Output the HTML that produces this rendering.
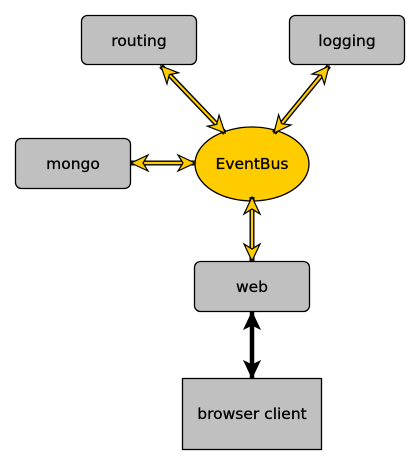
<!DOCTYPE html>
<html><head><meta charset="utf-8"><style>
html,body{margin:0;padding:0;background:#fff;width:420px;height:466px;overflow:hidden}
text{font-family:"DejaVu Sans","Liberation Sans",sans-serif;font-size:15.5px;fill:#000;stroke:#000;stroke-width:0.3}
</style></head><body>
<svg width="420" height="466" viewBox="0 0 420 466" xmlns="http://www.w3.org/2000/svg">
<defs>
<marker id="ya" markerUnits="userSpaceOnUse" markerWidth="22" markerHeight="22" refX="19" refY="11" orient="auto-start-reverse" viewBox="0 0 22 22">
<path d="M19,11 L2,3 L7,11 L2,19 Z" fill="#ffcc00" stroke="#000" stroke-width="1.2" stroke-linejoin="miter"/>
</marker>
<marker id="ba" markerUnits="userSpaceOnUse" markerWidth="22" markerHeight="22" refX="19" refY="11" orient="auto-start-reverse" viewBox="0 0 22 22">
<path d="M19,11 L2,3 L6,11 L2,19 Z" fill="#000" stroke="#000" stroke-width="1"/>
</marker>
</defs>
<g fill="#c0c0c0" stroke="#000" stroke-width="1.3">
<rect x="81.5" y="15.5" width="115" height="49" rx="6"/>
<rect x="289.5" y="15.5" width="115" height="49" rx="6"/>
<rect x="15.5" y="138.5" width="115" height="50" rx="6"/>
<rect x="194.5" y="261.5" width="115" height="50" rx="6"/>
<rect x="182.5" y="378.5" width="139" height="71"/>
</g>
<ellipse cx="252" cy="164" rx="57" ry="37" fill="#ffcc00" stroke="#000" stroke-width="1.3"/>
<g stroke-linecap="butt">
<line x1="161" y1="66" x2="225" y2="133" stroke="#000" stroke-width="5"/>
<line x1="161" y1="66" x2="225" y2="133" stroke="#ffcc00" stroke-width="2.2" marker-start="url(#ya)" marker-end="url(#ya)"/>
<line x1="329" y1="66" x2="274" y2="133" stroke="#000" stroke-width="5"/>
<line x1="329" y1="66" x2="274" y2="133" stroke="#ffcc00" stroke-width="2.2" marker-start="url(#ya)" marker-end="url(#ya)"/>
<line x1="131" y1="163" x2="195" y2="163" stroke="#000" stroke-width="5"/>
<line x1="131" y1="163" x2="195" y2="163" stroke="#ffcc00" stroke-width="2.2" marker-start="url(#ya)" marker-end="url(#ya)"/>
<line x1="252" y1="197" x2="252" y2="261" stroke="#000" stroke-width="5"/>
<line x1="252" y1="197" x2="252" y2="261" stroke="#ffcc00" stroke-width="2.2" marker-start="url(#ya)" marker-end="url(#ya)"/>
<line x1="252" y1="312" x2="252" y2="378" stroke="#000" stroke-width="4.5" marker-start="url(#ba)" marker-end="url(#ba)"/>
</g>
<g text-anchor="middle">
<text x="139" y="46">routing</text>
<text x="347" y="46">logging</text>
<text x="73" y="169">mongo</text>
<text x="252" y="169">EventBus</text>
<text x="252" y="292">web</text>
<text x="252" y="419">browser client</text>
</g>
</svg>
</body></html>
